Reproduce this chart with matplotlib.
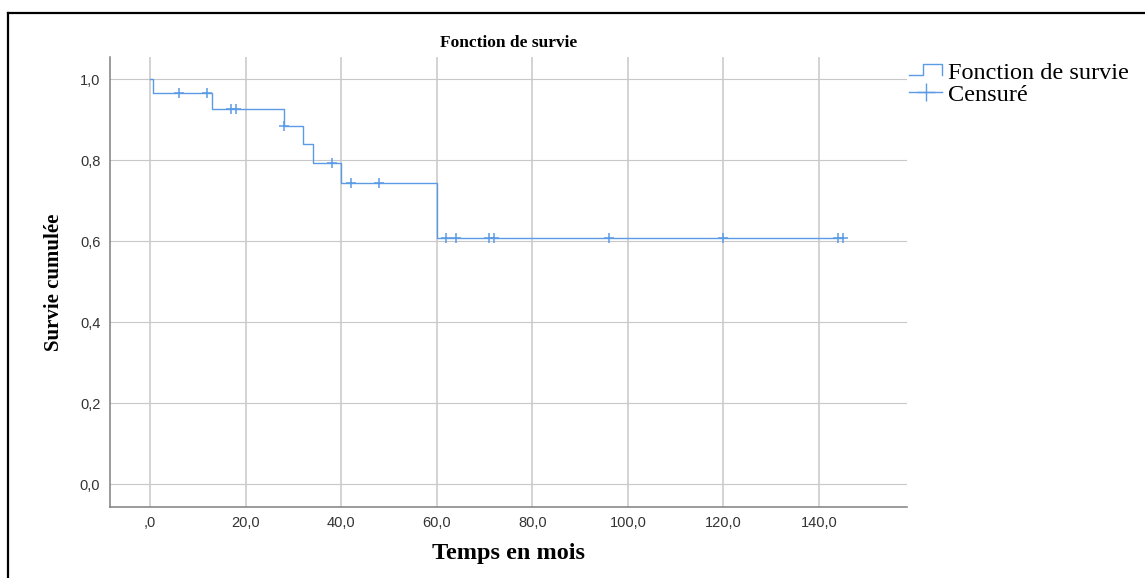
import matplotlib
matplotlib.use("Agg")
import matplotlib.pyplot as plt
from matplotlib.lines import Line2D
from matplotlib.legend_handler import HandlerBase
from matplotlib.ticker import FuncFormatter
import numpy as np

# Kaplan-Meier step levels (time in months)
event_times = [0, 0.5, 13, 28, 32, 34, 40, 60, 145]
survival = [1.0, 0.967, 0.927, 0.885, 0.839, 0.792, 0.743, 0.609, 0.609]

# censored observations
censor_times = [6, 12, 17, 18, 28, 38, 42, 48, 62, 64, 71, 72, 96, 120, 144, 145]

x_ticks = [0, 20, 40, 60, 80, 100, 120, 140]
y_ticks = [0.0, 0.2, 0.4, 0.6, 0.8, 1.0]

blue = '#5b9be6'
grid_col = '#c8c8c8'
serif = ['Liberation Serif', 'DejaVu Serif']
sans = ['Liberation Sans', 'DejaVu Sans']


class StepHandler(HandlerBase):
    # legend icon: low, up, across, down
    def create_artists(self, legend, orig_handle, xdescent, ydescent,
                       width, height, fontsize, trans):
        x0, x1 = -xdescent, -xdescent + width
        xm = x0 + 0.42 * width
        lo, hi = -ydescent + 0.2 * height, -ydescent + 0.85 * height
        line = Line2D([x0, xm, xm, x1, x1], [lo, lo, hi, hi, lo],
                      color=blue, lw=1.0, transform=trans)
        return [line]


fig = plt.figure(figsize=(11.45, 5.78), dpi=100)
ax = fig.add_axes([0.0961, 0.1234, 0.696, 0.778])

ax.step(event_times, survival, where='post', color=blue, lw=1.0)

et = np.array(event_times)
sv = np.array(survival)
idx = np.searchsorted(et, censor_times, side='right') - 1
ax.plot(censor_times, sv[idx], linestyle='none', marker='+',
        markersize=6.5, mew=1.1, color=blue)

ax.set_xlim(-8.4, 158.4)
ax.set_ylim(-0.056, 1.055)
ax.set_xticks(x_ticks)
ax.set_yticks(y_ticks)

ax.xaxis.set_major_formatter(FuncFormatter(
    lambda v, p: ',0' if v == 0 else f'{v:.1f}'.replace('.', ',')))
ax.yaxis.set_major_formatter(FuncFormatter(
    lambda v, p: f'{v:.1f}'.replace('.', ',')))

ax.grid(True, axis='x', color=grid_col, lw=1.1)
ax.grid(True, axis='y', color=grid_col, lw=0.8)
ax.set_axisbelow(True)

for s in ['top', 'right']:
    ax.spines[s].set_visible(False)
for s in ['left', 'bottom']:
    ax.spines[s].set_color('#808080')
    ax.spines[s].set_linewidth(1.1)

ax.tick_params(length=0, pad=7, labelsize=10.5, labelcolor='#333333')
for lab in ax.get_xticklabels() + ax.get_yticklabels():
    lab.set_family(sans)

ax.set_title('Fonction de survie', family=serif, fontweight='bold',
             fontsize=12.5, pad=7)
ax.set_xlabel('Temps en mois', family=serif, fontweight='bold', fontsize=17.5)
ax.set_ylabel('Survie cumulée', family=serif, fontweight='bold', fontsize=15)
ax.xaxis.set_label_coords(0.5, -0.08)
ax.yaxis.set_label_coords(-0.0577, 0.5)

h_step = Line2D([], [], color=blue)
h_cens = Line2D([], [], color=blue, lw=1.0, marker='+', markersize=13, mew=1.0)
fig.legend([h_step, h_cens], ['Fonction de survie', 'Censuré'],
           handler_map={h_step: StepHandler()},
           loc='upper left', bbox_to_anchor=(0.794, 0.893),
           bbox_transform=fig.transFigure, frameon=False,
           borderpad=0, borderaxespad=0, numpoints=1,
           handlelength=1.36, handletextpad=0.25, labelspacing=0.0,
           prop={'family': serif, 'size': 17.5})

# frame lines visible on the left and top of the picture
fig.add_artist(Line2D([0.0074, 0.0074], [0, 0.978], transform=fig.transFigure,
                      color='black', lw=1.6))
fig.add_artist(Line2D([0.0074, 1], [0.978, 0.978], transform=fig.transFigure,
                      color='black', lw=1.6))

fig.savefig('out.png', dpi=100)
